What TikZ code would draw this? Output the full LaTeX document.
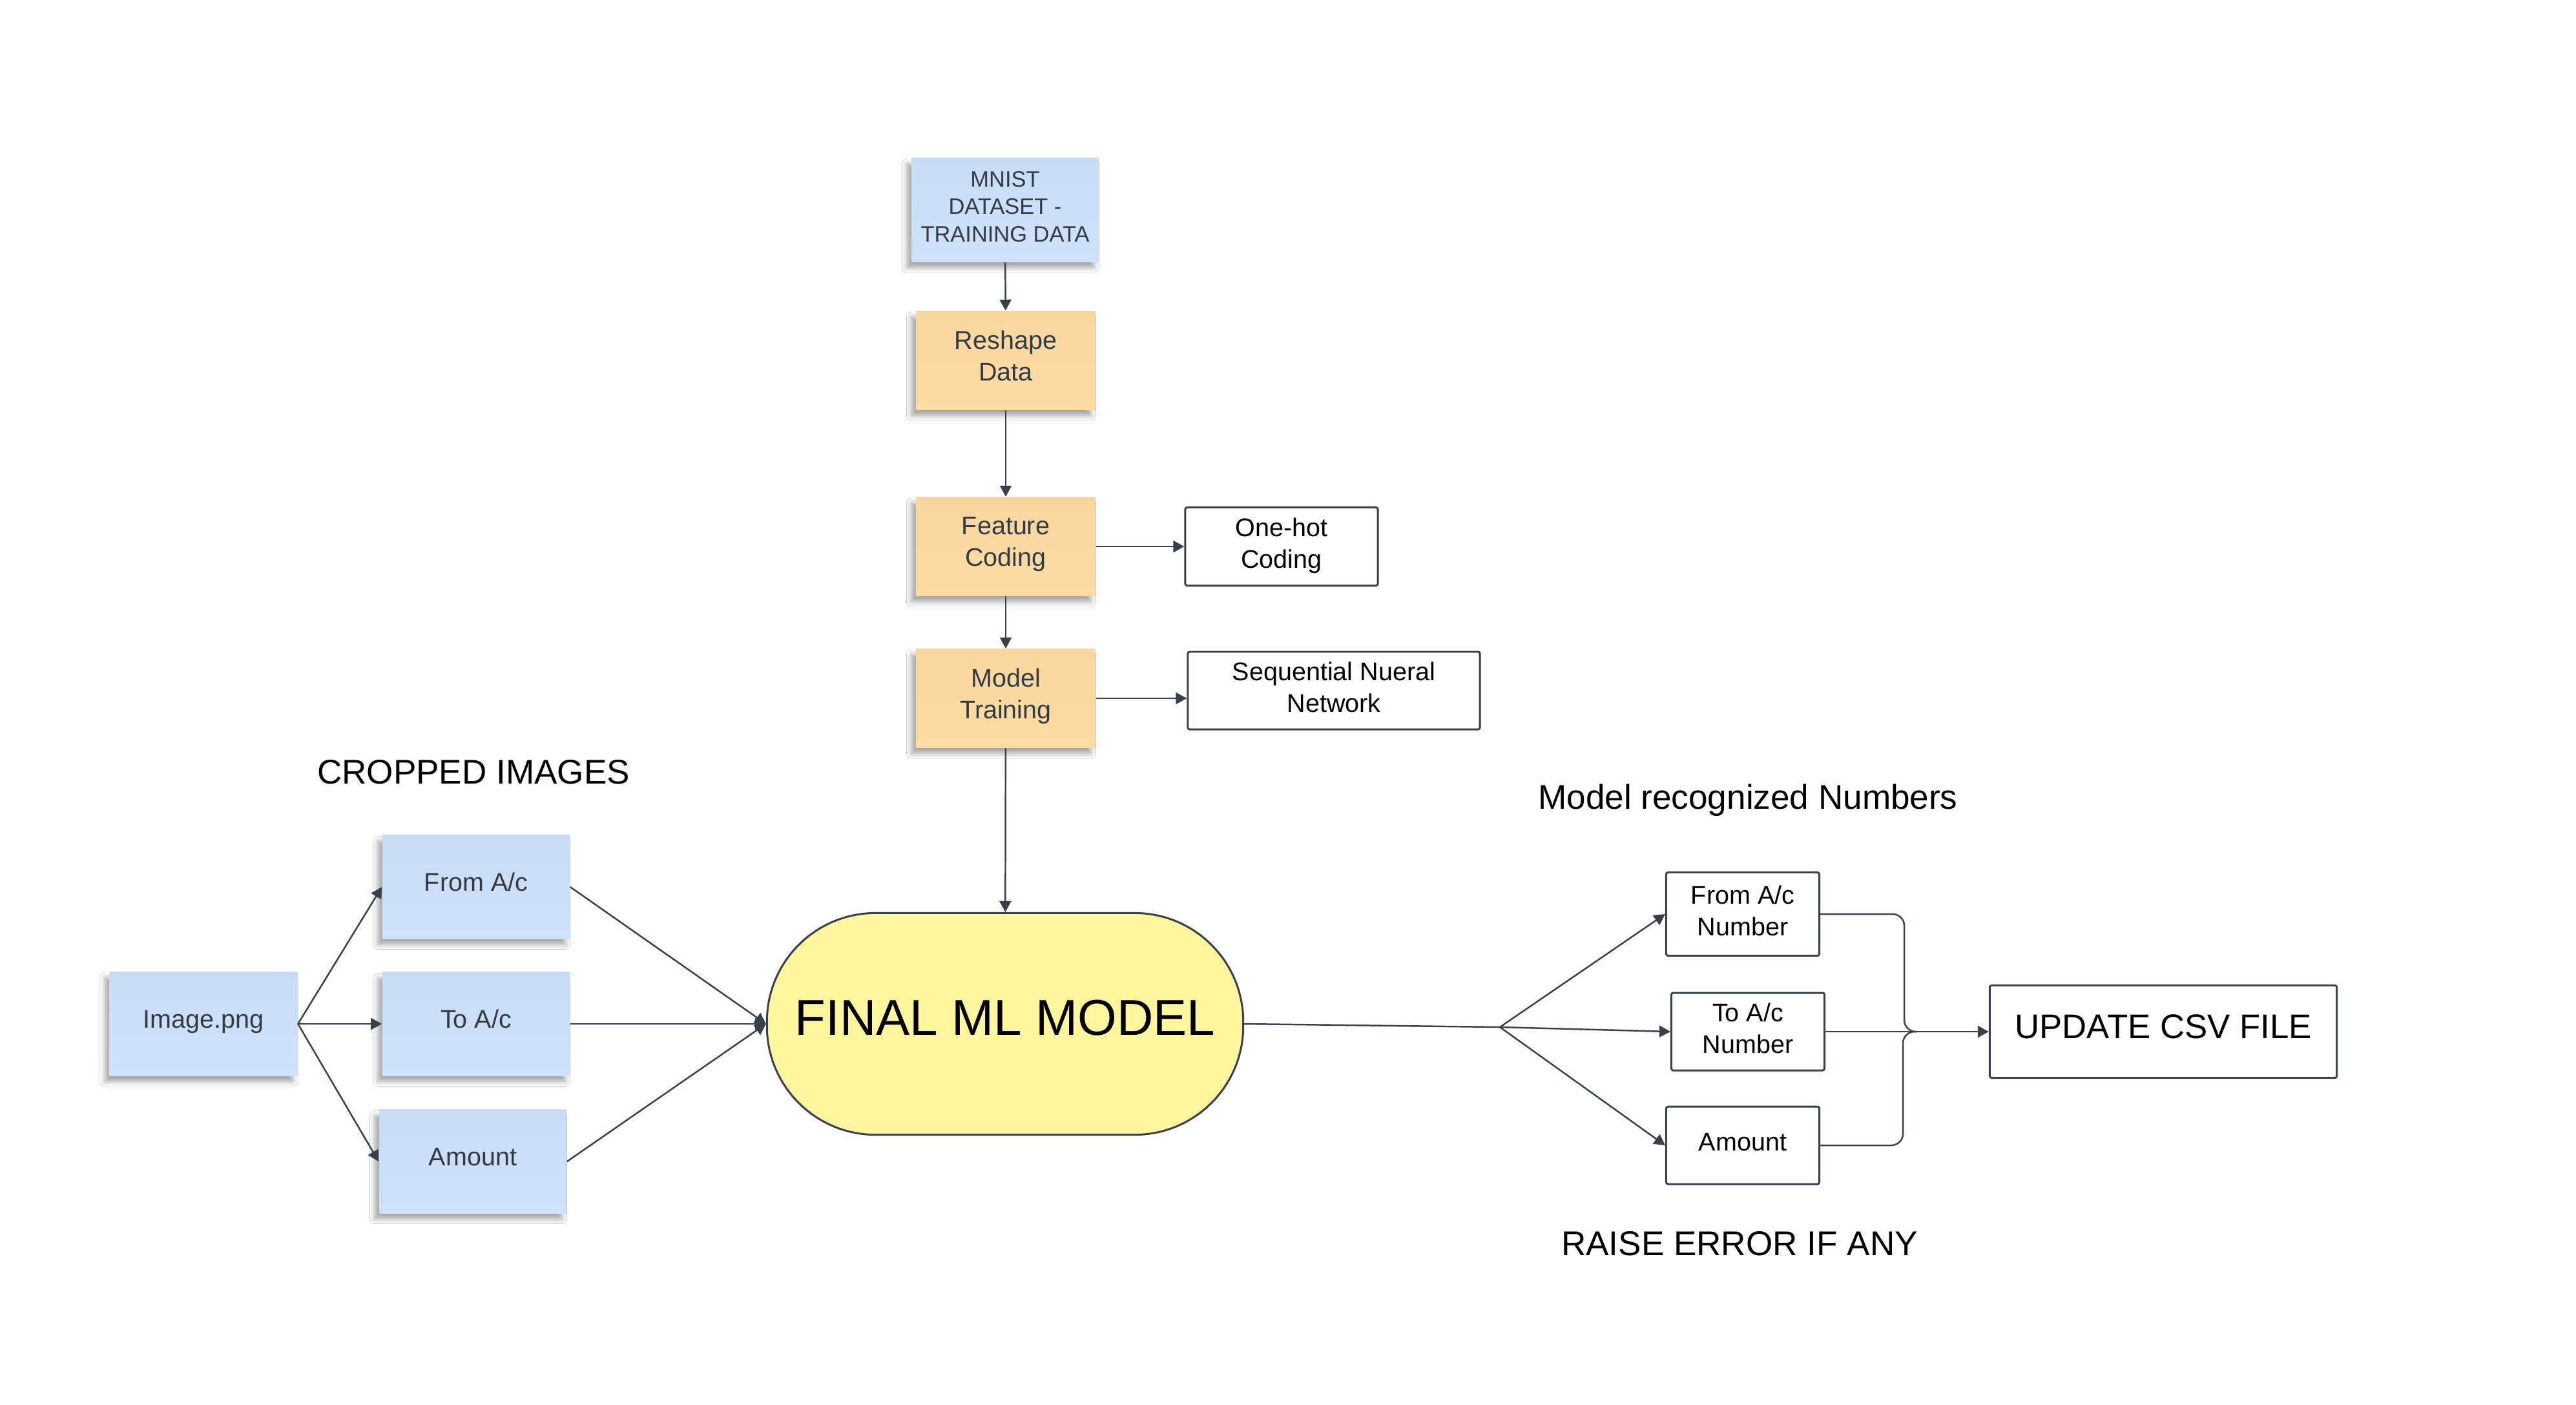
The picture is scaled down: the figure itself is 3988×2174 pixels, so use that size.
\documentclass[tikz,border=0pt]{standalone}
\usepackage{fontspec}
\setmainfont{Liberation Sans}
\usetikzlibrary{arrows.meta,shadows.blur,calc}
\definecolor{stickblue}{HTML}{CFE2FC}
\definecolor{stickbluetop}{HTML}{C9DCF6}
\definecolor{stickorange}{HTML}{FDDBA5}
\definecolor{stickorangetop}{HTML}{F8D6A0}
\definecolor{modelyellow}{HTML}{FFF59F}
\definecolor{linegray}{HTML}{3A4049}
\definecolor{notetext}{HTML}{333A42}
\begin{document}
\begin{tikzpicture}[x=0.01cm,y=-0.01cm,
  conn/.style={draw=linegray, line width=0.7pt, -{Triangle[length=0.17cm,width=0.18cm]}},
  plainline/.style={draw=linegray, line width=0.7pt},
  sticky/.style={inner sep=0pt, align=center, text=notetext, font=\fontsize{11.24}{13.8}\selectfont,
    text depth=4.3pt,
    blur shadow={shadow xshift=-0.07cm, shadow yshift=-0.09cm, shadow blur steps=6, shadow opacity=35}},
  bluenote/.style={sticky, top color=stickbluetop, bottom color=stickblue},
  orangenote/.style={sticky, top color=stickorangetop, bottom color=stickorange},
  whitebox/.style={draw=linegray, line width=0.85pt, fill=white, rounded corners=0.03cm, inner sep=0pt,
    align=center, font=\fontsize{11.24}{13.8}\selectfont, text depth=2.9pt},
  caption/.style={font=\fontsize{15.1}{18}\selectfont, inner sep=0pt}
]
\fill[white] (0,0) rectangle (3988,2174);
\useasboundingbox (0,0) rectangle (3988,2174);

% training pipeline
\node[bluenote, minimum width=2.9cm, minimum height=1.61cm, font=\fontsize{9.8}{12.1}\selectfont, text depth=2.9pt] (mnist) at (1556,325) {MNIST\\DATASET -\\TRAINING DATA};
\node[orangenote, minimum width=2.78cm, minimum height=1.53cm] (reshape) at (1557,558) {Reshape\\Data};
\node[orangenote, minimum width=2.78cm, minimum height=1.53cm] (feature) at (1557,846) {Feature\\Coding};
\node[orangenote, minimum width=2.78cm, minimum height=1.53cm] (training) at (1557,1081) {Model\\Training};
\node[whitebox, minimum width=2.98cm, minimum height=1.21cm] (onehot) at (1984,846) {One-hot\\Coding};
\node[whitebox, minimum width=4.52cm, minimum height=1.2cm] (seq) at (2065,1069) {Sequential Nueral\\Network};

% cropped images
\node[bluenote, minimum width=2.91cm, minimum height=1.61cm] (img) at (315,1585) {Image.png};
\node[bluenote, minimum width=2.9cm, minimum height=1.6cm] (fromac) at (737,1373) {From A/c};
\node[bluenote, minimum width=2.9cm, minimum height=1.6cm] (toac) at (737,1585) {To A/c};
\node[bluenote, minimum width=2.9cm, minimum height=1.6cm] (amount) at (732,1798) {Amount};

% final model
\node[draw=linegray, line width=0.85pt, fill=modelyellow, rounded corners=1.68cm, minimum width=7.37cm,
  minimum height=3.43cm, inner sep=0pt, text depth=5.8pt, font=\fontsize{22.2}{26}\selectfont] (final) at (1556,1585) {FINAL ML MODEL};

% recognized numbers
\node[whitebox, minimum width=2.37cm, minimum height=1.29cm] (fromn) at (2698,1415) {From A/c\\Number};
\node[whitebox, minimum width=2.37cm, minimum height=1.2cm] (ton) at (2706,1597) {To A/c\\Number};
\node[whitebox, minimum width=2.37cm, minimum height=1.2cm] (amtn) at (2698,1773) {Amount};
\node[whitebox, minimum width=5.37cm, minimum height=1.43cm, text depth=4.4pt, font=\fontsize{15}{18}\selectfont] (update) at (3349,1597) {UPDATE CSV FILE};

% captions
\node[caption] (cap1) at (733,1195) {CROPPED IMAGES};
\node[caption] (cap2) at (2706,1239) {Model recognized Numbers};
\node[caption] (cap3) at (2693,1925) {RAISE ERROR IF ANY};

% connectors
\draw[conn] (mnist) -- (reshape);
\draw[conn] (reshape) -- (feature);
\draw[conn] (feature) -- (training);
\draw[conn] (feature) -- (onehot);
\draw[conn] (training.east) -- (training.east -| seq.west);
\draw[conn] (training) -- (final);

\draw[conn] (img.east) -- (fromac.west);
\draw[conn] (img.east) -- (toac.west);
\draw[conn] (img.east) -- (amount.west);
\draw[conn] (fromac.east) -- (final.west);
\draw[conn] (toac.east) -- (final.west);
\draw[conn] (amount.east) -- (final.west);

\coordinate (branch) at (2322,1590);
\draw[plainline] (final.east) -- (branch);
\draw[conn] (branch) -- (fromn.west);
\draw[conn] (branch) -- (ton.west);
\draw[conn] (branch) -- (amtn.west);

\coordinate (merge) at (2967,1597);
\coordinate (mtop) at (2948,1597);
\coordinate (mbot) at (2946,1597);
\draw[plainline, rounded corners=0.18cm] (fromn.east) -| (mtop) -- (merge);
\draw[plainline, rounded corners=0.18cm] (amtn.east) -| (mbot) -- (merge);
\draw[conn] (ton.east) -- (update.west);
\end{tikzpicture}
\end{document}
